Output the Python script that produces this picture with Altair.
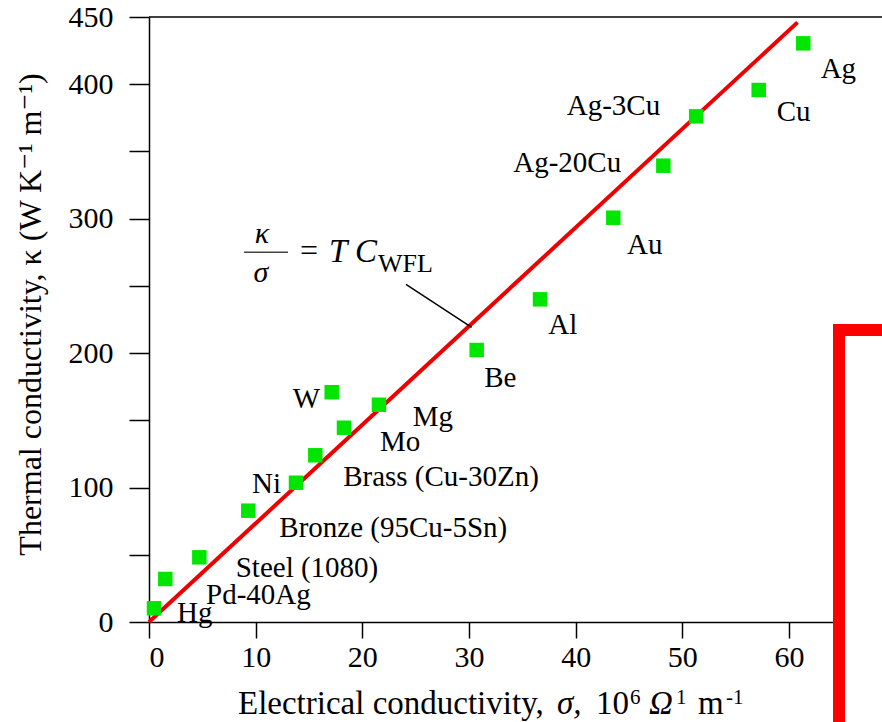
import altair as alt
import pandas as pd

# ---- data ----
materials = ["Hg", "Pd-40Ag", "Steel (1080)", "Bronze (95Cu-5Sn)", "Ni", "Brass (Cu-30Zn)",
             "Mo", "W", "Mg", "Be", "Al", "Au", "Ag-20Cu", "Ag-3Cu", "Cu", "Ag"]
sigma = [0.47, 1.53, 4.72, 9.31, 13.78, 15.59, 18.28, 17.13, 21.56, 30.72, 36.66, 43.53,
         48.22, 51.3, 57.16, 61.34]
kappa = [10.2, 32.0, 48.1, 82.8, 103.6, 124.0, 144.5, 170.9, 161.6, 202.3, 240.0, 300.7,
         339.4, 376.1, 395.7, 430.4]
# label anchors (left edge / baseline) in data units
label_sigma = [2.62, 5.35, 8.13, 12.22, 9.66, 18.2, 21.66, 13.47, 24.72, 31.43, 37.43, 44.81,
               34.15, 39.16, 58.85, 62.97]
label_kappa = [0.0, 13.4, 33.7, 63.5, 96.2, 101.2, 127.4, 159.4, 145.8, 175.0, 214.2, 273.7,
               335.0, 377.1, 372.9, 404.4]

fit_sigma = [0.0, 60.8]
fit_kappa = [0.0, 446.0]

leader_sigma = [24.09, 30.25]
leader_kappa = [251.2, 219.2]

x_ticks = [0, 10, 20, 30, 40, 50, 60]
y_ticks = [0, 50, 100, 150, 200, 250, 300, 350, 400, 450]

# x-axis title pieces: text, style, size, left px (plot coords), baseline px (plot coords)
xt_text = ["Electrical conductivity,", "σ,", "10", "6", "Ω", "1", "m", "-1"]
xt_style = ["normal", "italic", "normal", "normal", "italic", "normal", "normal", "normal"]
xt_size = [33, 33, 33, 21, 33, 21, 33, 21]
xt_left = [89, 408, 447, 481, 500, 527, 549, 577]
xt_base = [697, 697, 697, 687, 697, 687, 697, 687]

X_MAX = 68.72
Y_MAX = 450
W, H = 733, 605
FONT = "'Times New Roman', 'Liberation Serif', 'DejaVu Serif', serif"

pts = pd.DataFrame({"sigma": sigma, "kappa": kappa, "name": materials})
labs = pd.DataFrame({"sigma": label_sigma, "kappa": label_kappa, "name": materials})
fit = pd.DataFrame({"sigma": fit_sigma, "kappa": fit_kappa})
leader = pd.DataFrame({"sigma": leader_sigma, "kappa": leader_kappa})

xscale = alt.Scale(domain=[0, X_MAX], nice=False, zero=False)
yscale = alt.Scale(domain=[0, Y_MAX], nice=False, zero=False)

xaxis = alt.Axis(values=x_ticks, grid=False, domainColor="black", domainWidth=1.5,
                 tickColor="black", tickWidth=1.5, tickSize=16, labelFont=FONT,
                 labelFontSize=30, labelColor="black", labelPadding=4, title=None)
yaxis = alt.Axis(values=y_ticks, grid=False, domainColor="black", domainWidth=1.5,
                 tickColor="black", tickWidth=1.5, tickSize=20, labelFont=FONT,
                 labelFontSize=30, labelColor="black", labelPadding=16,
                 labelExpr="datum.value % 100 === 0 || datum.value === 450 ? datum.label : ''",
                 title="Thermal conductivity, κ (W K⁻¹ m⁻¹)", titleFont=FONT,
                 titleFontSize=32, titleFontWeight="normal", titleColor="black",
                 titleX=-109, titleY=297, titleAngle=-90, titleBaseline="alphabetic",
                 titleAnchor="middle")

line = alt.Chart(fit).mark_line(color="#ee0000", strokeWidth=4).encode(
    x=alt.X("sigma:Q", scale=xscale, axis=xaxis), y=alt.Y("kappa:Q", scale=yscale, axis=yaxis))

points = alt.Chart(pts).mark_point(shape="square", filled=True, size=210, opacity=1,
                                   color="#00e600").encode(
    x=alt.X("sigma:Q", scale=xscale), y=alt.Y("kappa:Q", scale=yscale))

labels = alt.Chart(labs).mark_text(font=FONT, fontSize=29, align="left",
                                   baseline="alphabetic", color="black").encode(
    x=alt.X("sigma:Q", scale=xscale), y=alt.Y("kappa:Q", scale=yscale), text="name:N")

lead = alt.Chart(leader).mark_line(color="black", strokeWidth=1.5).encode(
    x=alt.X("sigma:Q", scale=xscale), y=alt.Y("kappa:Q", scale=yscale))

# equation  kappa / sigma = T C_WFL
def eq_text(sx, ky, t, size, style, align):
    return alt.Chart(pd.DataFrame({"sigma": [sx], "kappa": [ky], "t": [t]})).mark_text(
        font=FONT, fontSize=size, fontStyle=style, align=align, baseline="alphabetic",
        color="black").encode(x=alt.X("sigma:Q", scale=xscale),
                              y=alt.Y("kappa:Q", scale=yscale), text="t:N")

eq_kappa = eq_text(10.59, 281.9, "κ", 30, "italic", "center")
eq_sigma = eq_text(10.5, 252.9, "σ", 30, "italic", "center")
eq_eq = eq_text(15.0, 268.5, "=", 32, "normal", "center")
eq_tc = eq_text(16.87, 267.8, "T C", 33, "italic", "left")
eq_sub = eq_text(21.47, 260.3, "WFL", 26, "normal", "left")
eq_bar = alt.Chart(pd.DataFrame({"sigma": [8.91], "sigma2": [13.03], "kappa": [275.0]})).mark_rule(
    color="#444444", strokeWidth=1.5).encode(x=alt.X("sigma:Q", scale=xscale), x2="sigma2:Q",
                                            y=alt.Y("kappa:Q", scale=yscale))

# x-axis title, built from pieces so that sigma / Omega are italic and exponents raised
xtitle_layers = []
for t, st, sz, lx, by in zip(xt_text, xt_style, xt_size, xt_left, xt_base):
    xtitle_layers.append(
        alt.Chart(pd.DataFrame({"t": [t]})).mark_text(
            font=FONT, fontSize=sz, fontStyle=st, align="left", baseline="alphabetic",
            color="black").encode(x=alt.value(lx), y=alt.value(by), text="t:N"))

top_spine = alt.Chart(pd.DataFrame({"kappa": [Y_MAX]})).mark_rule(
    color="black", strokeWidth=1.5).encode(x=alt.value(0), x2=alt.value(W),
                                           y=alt.Y("kappa:Q", scale=yscale))

overlay = alt.Chart(pd.DataFrame({"a": [0]})).mark_rect(
    fill="white", stroke="#ff0000", strokeWidth=12).encode(
    x=alt.value(690), x2=alt.value(820), y=alt.value(313), y2=alt.value(800))

chart = alt.layer(line, lead, points, labels, eq_kappa, eq_sigma, eq_bar, eq_eq, eq_tc, eq_sub,
                  *xtitle_layers, top_spine, overlay).properties(
    width=W, height=H,
    autosize=alt.AutoSizeParams(type="none"),
    padding={"left": 149, "top": 17, "right": 0, "bottom": 100},
    background="white",
).configure_view(stroke=None)

chart.save("out.html", embed_options={"renderer": "svg", "actions": False})
